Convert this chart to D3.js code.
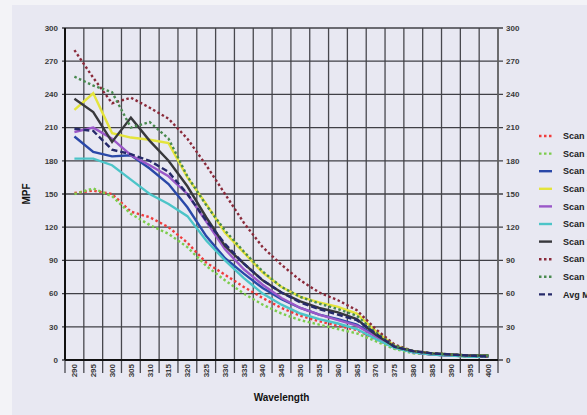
<!DOCTYPE html>
<html lang="en">
<head>
  <meta charset="UTF-8">
  <title>MPF by wavelength</title>
  <script src="https://cdnjs.cloudflare.com/ajax/libs/d3/7.8.5/d3.min.js"></script>
  <style>
    body { margin: 0; background: #f3f3f7; }
    svg { display: block; font-family: "Liberation Sans", Arial, sans-serif; }
    .tick-label { font-size: 8px; font-weight: bold; fill: #3a3a3a; }
    .title { font-size: 10px; font-weight: bold; fill: #111; }
    .legend text { font-size: 9px; font-weight: bold; fill: #222; }
  </style>
</head>
<body>
<div id="chart"></div>
<script>
  // wavelengths on the category axis
  var wavelengths = [290, 295, 300, 305, 310, 315, 320, 325, 330, 335, 340, 345,
                     350, 355, 360, 365, 370, 375, 380, 385, 390, 395, 400];
  var yTicks = [0, 30, 60, 90, 120, 150, 180, 210, 240, 270, 300];

  // MPF values per scan
  var scan1 = [151, 153, 150, 134, 129, 120, 106, 88, 77, 66, 56, 47, 40, 35, 31, 27, 19, 11, 7, 5, 4, 3, 3];
  var scan2 = [150, 155, 148, 132, 122, 114, 102, 85, 72, 60, 50, 42, 36, 32, 28, 24, 17, 10, 6, 5, 4, 3, 3];
  var scan3 = [202, 188, 184, 185, 173, 159, 138, 112, 92, 78, 65, 55, 47, 41, 37, 32, 22, 12, 7, 5, 4, 4, 3];
  var scan4 = [226, 241, 205, 201, 199, 196, 165, 141, 115, 97, 79, 66, 57, 52, 48, 42, 26, 13, 8, 6, 5, 4, 4];
  var scan5 = [206, 210, 200, 185, 176, 166, 150, 125, 100, 82, 68, 56, 47, 41, 36, 31, 21, 12, 7, 5, 4, 4, 3];
  var scan6 = [182, 182, 176, 163, 150, 141, 130, 108, 90, 74, 60, 50, 42, 37, 33, 28, 19, 11, 7, 5, 4, 3, 3];
  var scan7 = [236, 224, 197, 219, 198, 180, 157, 129, 103, 87, 72, 61, 53, 47, 43, 37, 23, 12, 8, 6, 5, 4, 4];
  var scan8 = [280, 255, 232, 237, 228, 218, 200, 176, 150, 124, 102, 86, 72, 61, 54, 45, 28, 14, 8, 6, 5, 4, 3];
  var scan9 = [256, 248, 242, 210, 215, 200, 166, 140, 117, 98, 80, 66, 57, 51, 46, 40, 25, 13, 8, 6, 5, 4, 4];
  var avgMpf = [209, 207, 190, 186, 180, 170, 150, 126, 105, 87, 72, 61, 52, 46, 41, 36, 24, 12, 8, 6, 5, 4, 3];

  var series = [
    {name: "Scan 1", values: scan1, color: "#f03c3c", dash: "2.5,2.5"},
    {name: "Scan 2", values: scan2, color: "#7ccc4c", dash: "2.5,2.5"},
    {name: "Scan 3", values: scan3, color: "#2a48a8", dash: null},
    {name: "Scan 4", values: scan4, color: "#e4e43c", dash: null},
    {name: "Scan 5", values: scan5, color: "#9a58c8", dash: null},
    {name: "Scan 6", values: scan6, color: "#4cc4c8", dash: null},
    {name: "Scan 7", values: scan7, color: "#38383c", dash: null},
    {name: "Scan 8", values: scan8, color: "#8a2a3a", dash: "2.5,2.5"},
    {name: "Scan 9", values: scan9, color: "#4a8a50", dash: "2.5,2.5"},
    {name: "Avg MPF", values: avgMpf, color: "#262a6a", dash: "6,3"}
  ];

  var W = 587, H = 415;
  var plotL = 65, plotR = 498, plotT = 28, plotB = 360;

  var svg = d3.select("#chart").append("svg")
      .attr("width", W)
      .attr("height", H);

  // panel background
  svg.append("rect").attr("width", W).attr("height", H).attr("fill", "#f3f3f7");
  svg.append("rect").attr("x", 12).attr("y", 5).attr("width", W - 12).attr("height", H - 5).attr("fill", "#e8e8f2");

  var x = d3.scaleBand().domain(wavelengths).range([plotL, plotR]).padding(0);
  var y = d3.scaleLinear().domain([0, 300]).range([plotB, plotT]);

  var bounds = wavelengths.map(function(d) { return x(d); }).concat([plotR]);

  // vertical grid lines at category boundaries, plus ticks below the axis
  svg.append("g").selectAll("line")
      .data(bounds.slice(1))
    .enter().append("line")
      .attr("x1", function(d) { return d; })
      .attr("x2", function(d) { return d; })
      .attr("y1", plotT)
      .attr("y2", plotB + 13)
      .attr("stroke", "#48484e")
      .attr("stroke-width", 1.3);
  svg.append("line")
      .attr("x1", plotL).attr("x2", plotL)
      .attr("y1", plotB).attr("y2", plotB + 13)
      .attr("stroke", "#48484e").attr("stroke-width", 1.3);

  // horizontal grid lines
  svg.append("g").selectAll("line")
      .data(yTicks)
    .enter().append("line")
      .attr("x1", plotL - 3)
      .attr("x2", plotR + 5)
      .attr("y1", function(d) { return y(d); })
      .attr("y2", function(d) { return y(d); })
      .attr("stroke", "#404046")
      .attr("stroke-width", 1.3);

  // axis lines
  svg.append("line").attr("x1", plotL).attr("x2", plotL).attr("y1", plotT).attr("y2", plotB)
      .attr("stroke", "#111").attr("stroke-width", 2);
  svg.append("line").attr("x1", plotR).attr("x2", plotR).attr("y1", plotT).attr("y2", plotB)
      .attr("stroke", "#666").attr("stroke-width", 1.5);
  svg.append("line").attr("x1", plotL).attr("x2", plotR).attr("y1", plotB).attr("y2", plotB)
      .attr("stroke", "#111").attr("stroke-width", 2);

  // y tick labels, left and right
  svg.append("g").selectAll("text")
      .data(yTicks)
    .enter().append("text")
      .attr("class", "tick-label")
      .attr("x", plotL - 7)
      .attr("y", function(d) { return y(d); })
      .attr("dy", "0.35em")
      .attr("text-anchor", "end")
      .text(function(d) { return d; });
  svg.append("g").selectAll("text")
      .data(yTicks)
    .enter().append("text")
      .attr("class", "tick-label")
      .attr("x", plotR + 8)
      .attr("y", function(d) { return y(d); })
      .attr("dy", "0.35em")
      .text(function(d) { return d; });

  // x tick labels, rotated
  svg.append("g").selectAll("text")
      .data(wavelengths)
    .enter().append("text")
      .attr("class", "tick-label")
      .attr("transform", function(d) {
        return "translate(" + (x(d) + x.bandwidth() / 2) + "," + (plotB + 4) + ") rotate(-90)";
      })
      .attr("dy", "0.35em")
      .attr("text-anchor", "end")
      .text(function(d) { return d; });

  // axis titles
  svg.append("text").attr("class", "title")
      .attr("x", (plotL + plotR) / 2).attr("y", 401)
      .attr("text-anchor", "middle")
      .text("Wavelength");
  svg.append("text").attr("class", "title")
      .attr("transform", "translate(30," + ((plotT + plotB) / 2) + ") rotate(-90)")
      .attr("text-anchor", "middle")
      .text("MPF");

  // lines
  var line = d3.line()
      .x(function(d, i) { return x(wavelengths[i]) + x.bandwidth() / 2; })
      .y(function(d) { return y(d); });

  svg.append("g").selectAll("path")
      .data(series)
    .enter().append("path")
      .attr("d", function(s) { return line(s.values); })
      .attr("fill", "none")
      .attr("stroke", function(s) { return s.color; })
      .attr("stroke-width", 2.4)
      .attr("stroke-dasharray", function(s) { return s.dash; });

  // legend (runs off the right edge, as in the original)
  var legend = svg.append("g").attr("class", "legend");
  var item = legend.selectAll("g")
      .data(series)
    .enter().append("g")
      .attr("transform", function(s, i) { return "translate(539," + (136 + i * 17.6) + ")"; });
  item.append("line")
      .attr("x1", 0).attr("x2", 13)
      .attr("stroke", function(s) { return s.color; })
      .attr("stroke-width", 2.4)
      .attr("stroke-dasharray", function(s) { return s.dash; });
  item.append("text")
      .attr("x", 24)
      .attr("dy", "0.35em")
      .text(function(s) { return s.name; });
</script>
</body>
</html>
